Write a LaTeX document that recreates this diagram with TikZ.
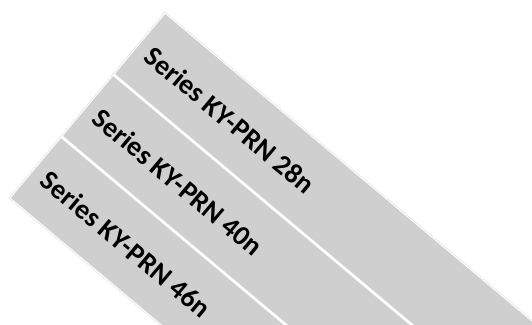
\documentclass[tikz,border=0pt]{standalone}
\usepackage{fontspec}
\setmainfont{Carlito}
\definecolor{bandgray}{RGB}{207,207,207}

\begin{document}
\begin{tikzpicture}[x=1pt, y=1pt, every node/.style={font=\bfseries\fontsize{28}{30}\selectfont, rotate=-40, anchor=west}]
\useasboundingbox (0,0) rectangle (532,-324);
\clip (0,0) rectangle (532,-324);
\begin{scope}[shift={(165,-12)}, rotate=-40]
% Draw bands
\draw[gray!20, line width=0.6pt] (0,0) rectangle (700,-243);
\fill[bandgray] (1.5,-1.5) rectangle (700,-79.5);
\fill[bandgray] (1.5,-82.5) rectangle (700,-160.5);
\fill[bandgray] (1.5,-163.5) rectangle (700,-241.5);
% Draw labels
\node (s28) at (10,-41) {Series KY-PRN 28n};
\node (s40) at (10,-122) {Series KY-PRN 40n};
\node (s46) at (10,-203) {Series KY-PRN 46n};
\end{scope}
\end{tikzpicture}
\end{document}
